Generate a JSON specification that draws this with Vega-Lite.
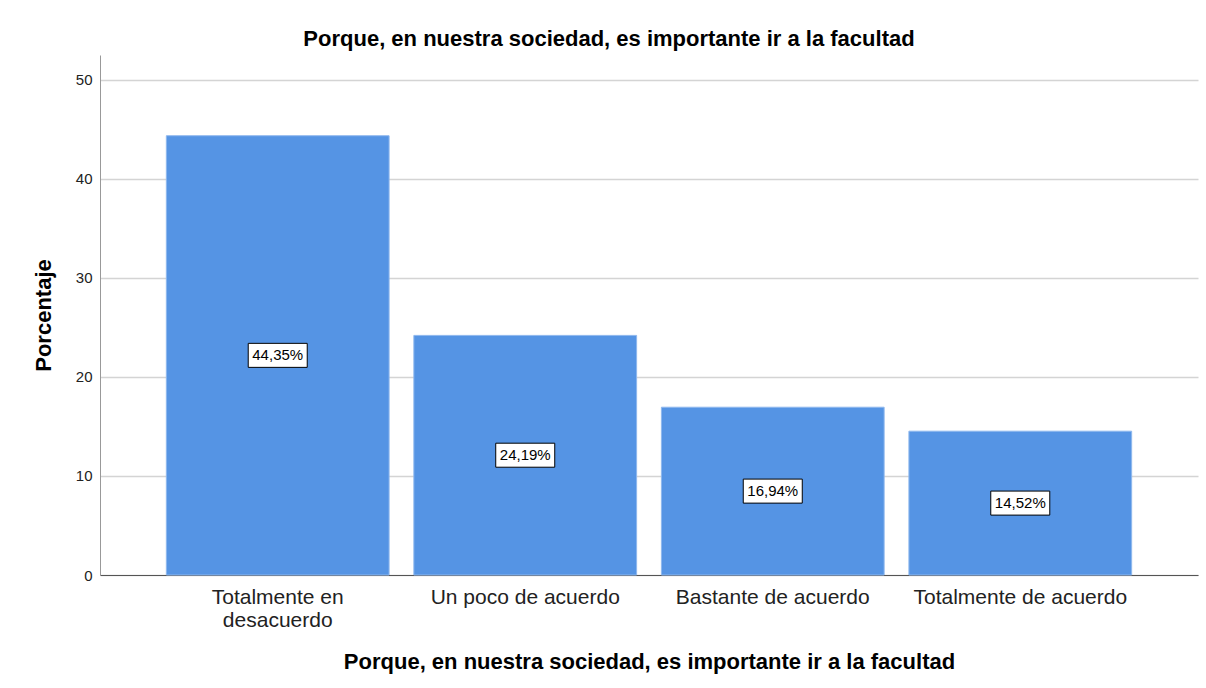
{
  "$schema": "https://vega.github.io/schema/vega-lite/v6.json",
  "width": 1098,
  "height": 520,
  "autosize": "none",
  "padding": {"left": 100, "top": 55, "right": 8, "bottom": 113},
  "background": "white",
  "title": {
    "text": "Porque, en nuestra sociedad, es importante ir a la facultad",
    "font": "Liberation Sans",
    "fontSize": 22,
    "fontWeight": "bold",
    "color": "black",
    "anchor": "middle",
    "offset": 4,
    "dx": -40
  },
  "data": {
    "values": [
      {"categoria": "Totalmente en desacuerdo", "porcentaje": 44.35},
      {"categoria": "Un poco de  acuerdo", "porcentaje": 24.19},
      {"categoria": "Bastante de  acuerdo", "porcentaje": 16.94},
      {"categoria": "Totalmente de  acuerdo", "porcentaje": 14.52}
    ]
  },
  "transform": [
    {"calculate": "datum.porcentaje / 2", "as": "medio"},
    {"calculate": "replace(format(datum.porcentaje, '.2f'), '.', ',') + '%'", "as": "etiqueta"}
  ],
  "encoding": {
    "x": {
      "field": "categoria",
      "type": "nominal",
      "sort": null,
      "scale": {"paddingInner": 0.1, "paddingOuter": 0.268},
      "axis": {
        "title": "Porque, en nuestra sociedad, es importante ir a la facultad",
        "labelAngle": 0,
        "labelFont": "Liberation Sans",
        "labelFontSize": 21,
        "labelColor": "#222",
        "labelPadding": 11,
        "labelLineHeight": 23,
        "labelLimit": 0,
        "labelExpr": "datum.label == 'Totalmente en desacuerdo' ? ['Totalmente en', 'desacuerdo'] : datum.label",
        "ticks": false,
        "domainColor": "#555",
        "titleFont": "Liberation Sans",
        "titleFontSize": 22,
        "titleFontWeight": "bold",
        "titleColor": "black",
        "titlePadding": 21
      }
    }
  },
  "layer": [
    {
      "mark": {"type": "bar", "color": "#5594E4", "stroke": "#8fb8ee", "strokeWidth": 1},
      "encoding": {
        "y": {
          "field": "porcentaje",
          "type": "quantitative",
          "scale": {"domain": [0, 52.5], "nice": false},
          "axis": {
            "title": "Porcentaje",
            "values": [0, 10, 20, 30, 40, 50],
            "labelFont": "Liberation Sans",
            "labelFontSize": 15,
            "labelColor": "#222",
            "labelPadding": 8,
            "ticks": false,
            "domainColor": "#999",
            "gridColor": "#d4d4d4",
            "gridWidth": 1.5,
            "titleFont": "Liberation Sans",
            "titleFontSize": 22,
            "titleFontWeight": "bold",
            "titleColor": "black",
            "titlePadding": 20
          }
        }
      }
    },
    {
      "mark": {"type": "point", "shape": "M-1,-0.407H1V0.407H-1Z", "size": 3481, "filled": true, "fill": "white", "stroke": "black", "strokeWidth": 1, "opacity": 1},
      "encoding": {
        "y": {"field": "medio", "type": "quantitative"}
      }
    },
    {
      "mark": {"type": "text", "font": "Liberation Sans", "fontSize": 15, "color": "black", "baseline": "middle", "align": "center"},
      "encoding": {
        "y": {"field": "medio", "type": "quantitative"},
        "text": {"field": "etiqueta"}
      }
    }
  ],
  "config": {
    "view": {"stroke": null}
  }
}
